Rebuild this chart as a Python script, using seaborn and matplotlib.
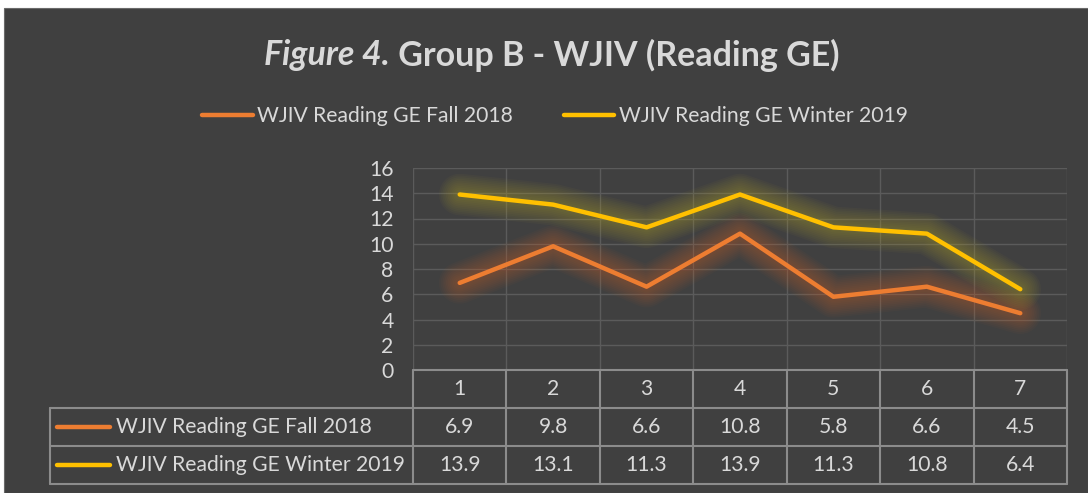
import numpy as np
import pandas as pd
import matplotlib
matplotlib.use("Agg")
import matplotlib.pyplot as plt
import seaborn as sns
from matplotlib import patheffects as pe
from matplotlib.transforms import blended_transform_factory
from matplotlib.lines import Line2D
from matplotlib.patches import Rectangle

# ---- data ----
categories = [1, 2, 3, 4, 5, 6, 7]
fall_2018 = [6.9, 9.8, 6.6, 10.8, 5.8, 6.6, 4.5]
winter_2019 = [13.9, 13.1, 11.3, 13.9, 11.3, 10.8, 6.4]
series_names = ["WJIV Reading GE Fall 2018", "WJIV Reading GE Winter 2019"]
y_ticks = [0, 2, 4, 6, 8, 10, 12, 14, 16]
title_italic = "Figure 4."
title_rest = " Group B - WJIV (Reading GE)"

colors = {series_names[0]: "#ED7D31", series_names[1]: "#FFC000"}
glow = {series_names[0]: "#c8602a", series_names[1]: "#b5a52a"}
BG = "#404040"
TXT = "#d9d9d9"
GRID = "#5b5b5b"
TLINE = "#8c8c8c"
FS = 15.2

sns.set_theme(style="dark")
plt.rcParams['font.family'] = ['Lato', 'DejaVu Sans']

W, H = 1088, 493
fig = plt.figure(figsize=(W / 100, H / 100), dpi=100, facecolor="white")
fig.patches.append(Rectangle((4 / W, 0), (W - 4) / W, (H - 8) / H, transform=fig.transFigure,
                             facecolor=BG, edgecolor="#6a6a6a", lw=0.8, zorder=-10))

ax = fig.add_axes([413 / W, (H - 370) / H, 654 / W, 202 / H])
ax.set_zorder(2)
ax.set_facecolor("none")

df = pd.DataFrame({
    "x": categories * 2,
    "value": fall_2018 + winter_2019,
    "series": [series_names[0]] * len(categories) + [series_names[1]] * len(categories),
})
sns.lineplot(data=df, x="x", y="value", hue="series", palette=colors, ax=ax,
             lw=3.2, legend=False, sort=False)

for line, name in zip(ax.lines, series_names):
    g = glow[name]
    line.set_solid_capstyle("round")
    line.set_solid_joinstyle("round")
    effects = [pe.Stroke(linewidth=w, foreground=g, alpha=0.045, capstyle="round", joinstyle="round")
               for w in np.linspace(30, 5, 11)]
    effects.append(pe.Normal())
    line.set_path_effects(effects)

ax.set_xlim(0.5, 7.5)
ax.set_ylim(0, 16)
ax.set_xticks(np.arange(0.5, 8, 1))
ax.set_xticklabels([])
ax.set_yticks(y_ticks)
ax.set_yticklabels([str(v) for v in y_ticks])
ax.tick_params(axis="y", colors=TXT, labelsize=FS, length=0, pad=14)
ax.tick_params(axis="x", length=0)
ax.grid(True, color=GRID, lw=1)
ax.set_xlabel("")
ax.set_ylabel("")
for s in ax.spines.values():
    s.set_visible(False)

# ---- data table ----
trans = blended_transform_factory(ax.transData, ax.transAxes)
r = 38 / 202
unit = 654 / 7
left_x = 0.5 - (413 - 50) / unit
lk = dict(color=TLINE, lw=1.5, transform=trans, clip_on=False, zorder=3)
ax.plot([0.5, 7.5], [0, 0], **lk)
for k in (1, 2, 3):
    ax.plot([left_x, 7.5], [-k * r, -k * r], **lk)
for xv in np.arange(0.5, 8, 1):
    ax.plot([xv, xv], [0, -3 * r], **lk)
ax.plot([left_x, left_x], [-r, -3 * r], **lk)

for i, c in enumerate(categories):
    ax.text(c, -0.5 * r, str(c), transform=trans, ha="center", va="center",
            color=TXT, fontsize=FS, clip_on=False)
    ax.text(c, -1.5 * r, f"{fall_2018[i]:.1f}", transform=trans, ha="center", va="center",
            color=TXT, fontsize=FS, clip_on=False)
    ax.text(c, -2.5 * r, f"{winter_2019[i]:.1f}", transform=trans, ha="center", va="center",
            color=TXT, fontsize=FS, clip_on=False)

k0 = 0.5 + (57 - 413) / unit
k1 = 0.5 + (110 - 413) / unit
t0 = 0.5 + (116 - 413) / unit
for j, name in enumerate(series_names):
    yc = -(1.5 + j) * r
    ax.plot([k0, k1], [yc, yc], color=colors[name], lw=3.2, transform=trans,
            clip_on=False, solid_capstyle="round")
    ax.text(t0, yc, name, transform=trans, ha="left", va="center", color=TXT,
            fontsize=FS, clip_on=False)

# ---- legend ----
handles = [Line2D([0], [0], color=colors[n], lw=3.2, solid_capstyle="round") for n in series_names]
leg = fig.legend(handles, series_names, loc="center", bbox_to_anchor=(555 / W, 1 - 116 / H),
                 ncol=2, frameon=False, fontsize=FS, handlelength=2.4, handletextpad=0.2,
                 columnspacing=2.4, labelcolor=TXT)

# ---- title ----
fig.canvas.draw()
rend = fig.canvas.get_renderer()
ty = 1 - 55 / H
t1 = fig.text(0, ty, title_italic, fontsize=24.5, fontweight="bold", style="italic",
              color=TXT, ha="left", va="center")
t2 = fig.text(0, ty, title_rest, fontsize=24.5, fontweight="bold", color=TXT,
              ha="left", va="center")
w1 = t1.get_window_extent(rend).width
w2 = t2.get_window_extent(rend).width
start = 552 - (w1 + w2) / 2
t1.set_x(start / W)
t2.set_x((start + w1) / W)

fig.savefig("out.png", dpi=100, facecolor=fig.get_facecolor())
